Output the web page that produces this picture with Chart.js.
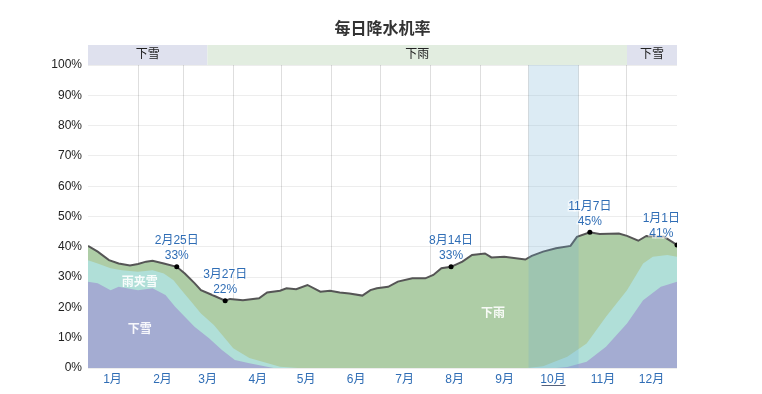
<!DOCTYPE html>
<html>
<head>
<meta charset="utf-8">
<script src="https://cdn.jsdelivr.net/npm/chart.js@4"></script>
<style>
  html, body { margin: 0; padding: 0; background: #fff; }
  #wrap { width: 762px; height: 394px; }
</style>
</head>
<body>
<div id="wrap"><canvas id="chart" width="762" height="394"></canvas></div>
<script>
const FONT = "'Liberation Sans', 'Noto Sans CJK SC', sans-serif";

const months = ["1月", "2月", "3月", "4月", "5月", "6月", "7月", "8月", "9月", "10月", "11月", "12月"];
const monthStarts = [0, 31, 59, 90, 120, 151, 181, 212, 243, 273, 304, 334];
const yTicks = [0, 10, 20, 30, 40, 50, 60, 70, 80, 90, 100];

// total chance of precipitation (top of the green area)
const totalDays = [0, 6, 13, 19, 26, 31, 36, 40, 47, 55, 60, 66, 70, 77, 85, 88, 96, 106, 111, 119, 123, 129, 136, 144, 150, 156, 162, 170, 175, 179, 186, 192, 201, 209, 214, 219, 225, 232, 238, 246, 250, 258, 271, 275, 282, 290, 299, 303, 311, 317, 329, 334, 341, 346, 357, 365];
const totalPct = [40.3, 38.4, 35.6, 34.5, 33.8, 34.3, 35.1, 35.4, 34.5, 33.4, 31.2, 28.0, 25.7, 24.1, 22.2, 22.8, 22.4, 23.0, 24.9, 25.5, 26.3, 26.0, 27.4, 25.2, 25.5, 24.9, 24.6, 23.9, 25.7, 26.3, 26.8, 28.5, 29.6, 29.6, 30.7, 32.9, 33.4, 35.1, 37.3, 37.8, 36.5, 36.7, 35.8, 37.0, 38.4, 39.5, 40.3, 43.3, 44.8, 44.2, 44.4, 43.6, 42.0, 43.6, 43.3, 40.6];

// top of the mixed (rain + snow) area
const mixDays = [0, 6, 14, 21, 31, 40, 47, 53, 58, 64, 70, 78, 90, 100, 119, 130, 272, 282, 297, 309, 321, 334, 344, 350, 359, 365];
const mixPct = [35.6, 34.5, 32.9, 32.3, 31.8, 32.3, 31.2, 29.0, 25.7, 21.9, 18.0, 14.2, 6.5, 3.3, 0.4, 0, 0, 0.6, 3.7, 8.1, 16.9, 25.7, 34.5, 36.7, 37.3, 36.7];

// top of the snow area
const snowDays = [0, 6, 14, 19, 31, 40, 48, 54, 60, 66, 75, 83, 91, 100, 115, 290, 297, 309, 321, 334, 344, 355, 365];
const snowPct = [28.5, 28.0, 25.7, 26.8, 25.7, 26.3, 24.1, 20.2, 16.9, 13.6, 9.8, 5.9, 2.6, 1.6, 0, 0, 0.3, 2.1, 7.0, 14.7, 22.4, 26.8, 28.5];

// marked points
const noteDays = [55, 85, 225, 311, 365];
const notePct = [33.4, 22.2, 33.4, 44.8, 40.6];
const noteDates = ["2月25日", "3月27日", "8月14日", "11月7日", "1月1日"];
const noteValues = ["33%", "22%", "33%", "45%", "41%"];

// season bar along the top
const seasonStart = [0, 74, 334];
const seasonEnd = [74, 334, 365];
const seasonNames = ["下雪", "下雨", "下雪"];

// labels inside the areas
const areaNames = ["雨夹雪", "下雪", "下雨"];
const areaDays = [32, 32, 251];
const areaPct = [28, 12.5, 18];

// highlighted month (October)
const hlStart = 273;
const hlEnd = 304;

const pts = (xs, ys) => xs.map((x, i) => ({ x: x, y: ys[i] }));

const extras = {
  id: "extras",
  afterDatasetsDraw(chart) {
    const { ctx, chartArea: a, scales: { x } } = chart;
    ctx.save();
    ctx.fillStyle = "rgba(110,170,210,0.24)";
    ctx.fillRect(x.getPixelForValue(hlStart), a.top, x.getPixelForValue(hlEnd) - x.getPixelForValue(hlStart), a.bottom - a.top);
    ctx.restore();
  },
  afterDraw(chart) {
    const { ctx, chartArea: a, scales: { x, y } } = chart;
    ctx.save();

    // title
    ctx.fillStyle = "#333";
    ctx.font = "bold 16px " + FONT;
    ctx.textAlign = "center";
    ctx.textBaseline = "middle";
    ctx.fillText("每日降水机率", (a.left + a.right) / 2, 30);

    // season bar
    seasonNames.forEach((name, i) => {
      const x0 = x.getPixelForValue(seasonStart[i]);
      const x1 = x.getPixelForValue(seasonEnd[i]);
      ctx.fillStyle = name === "下雪" ? "#dfe1ee" : "#e2ede0";
      ctx.fillRect(x0, a.top - 20, x1 - x0, 20);
      ctx.fillStyle = "#222";
      ctx.font = "12px " + FONT;
      ctx.fillText(name, (x0 + x1) / 2, a.top - 10);
    });

    // area labels
    ctx.fillStyle = "rgba(255,255,255,0.9)";
    ctx.font = "bold 12px " + FONT;
    areaNames.forEach((t, i) => {
      ctx.fillText(t, x.getPixelForValue(areaDays[i]), y.getPixelForValue(areaPct[i]));
    });

    // notes
    ctx.font = "12px " + FONT;
    noteDates.forEach((d, i) => {
      const px = x.getPixelForValue(noteDays[i]);
      const py = y.getPixelForValue(notePct[i]);
      const half = ctx.measureText(d).width / 2;
      const cx = Math.min(px, a.right + 3 - half);
      ctx.lineWidth = 3;
      ctx.strokeStyle = "rgba(255,255,255,0.6)";
      ctx.strokeText(d, cx, py - 26);
      ctx.strokeText(noteValues[i], cx, py - 11);
      ctx.fillStyle = "#2f6db5";
      ctx.fillText(d, cx, py - 26);
      ctx.fillText(noteValues[i], cx, py - 11);
    });

    // underline for highlighted month
    const mx = (x.getPixelForValue(hlStart) + x.getPixelForValue(hlEnd)) / 2;
    ctx.strokeStyle = "#55607a";
    ctx.lineWidth = 1;
    ctx.beginPath();
    ctx.moveTo(mx - 12, a.bottom + 17.5);
    ctx.lineTo(mx + 12, a.bottom + 17.5);
    ctx.stroke();
    ctx.restore();
  }
};

new Chart(document.getElementById("chart"), {
  type: "line",
  data: {
    datasets: [
      {
        label: "marks",
        data: pts(noteDays, notePct),
        showLine: false,
        pointRadius: 2.5,
        pointBackgroundColor: "#000",
        pointBorderWidth: 0,
        order: 0
      },
      {
        label: "total",
        data: pts(totalDays, totalPct),
        borderColor: "#555",
        borderWidth: 2,
        pointRadius: 0,
        fill: false,
        order: 1
      },
      {
        label: "snow",
        data: pts(snowDays, snowPct),
        borderWidth: 0,
        pointRadius: 0,
        fill: "origin",
        backgroundColor: "#a4acd2",
        order: 2
      },
      {
        label: "mixed",
        data: pts(mixDays, mixPct),
        borderWidth: 0,
        pointRadius: 0,
        fill: "origin",
        backgroundColor: "#b0dfd8",
        order: 3
      },
      {
        label: "rain",
        data: pts(totalDays, totalPct),
        borderWidth: 0,
        pointRadius: 0,
        fill: "origin",
        backgroundColor: "#aecda6",
        order: 4
      }
    ]
  },
  options: {
    responsive: false,
    animation: false,
    layout: { padding: { top: 65, right: 85, bottom: 0, left: 0 } },
    plugins: { legend: { display: false }, tooltip: { enabled: false }, title: { display: false } },
    scales: {
      x: {
        type: "linear",
        min: 0,
        max: 365,
        z: 1,
        afterBuildTicks: (s) => { s.ticks = monthStarts.map((v) => ({ value: v })); },
        afterFit: (s) => { s.height = 26; },
        border: { display: false },
        grid: {
          drawTicks: false,
          color: (c) => (c.tick && c.tick.value === 0 ? "transparent" : "rgba(0,0,0,0.13)")
        },
        ticks: {
          padding: 4,
          labelOffset: 24.5,
          maxRotation: 0,
          autoSkip: false,
          color: "#2f6db5",
          font: { family: FONT, size: 12 },
          callback: (v) => months[monthStarts.indexOf(v)]
        }
      },
      y: {
        min: 0,
        max: 100,
        z: 1,
        afterBuildTicks: (s) => { s.ticks = yTicks.map((v) => ({ value: v })); },
        afterFit: (s) => { s.width = 88; },
        border: { display: false },
        grid: { drawTicks: false, color: "rgba(0,0,0,0.07)" },
        ticks: {
          padding: 6,
          color: "#222",
          font: { family: FONT, size: 12 },
          callback: (v) => v + "%"
        }
      }
    }
  },
  plugins: [extras]
});
</script>
</body>
</html>
